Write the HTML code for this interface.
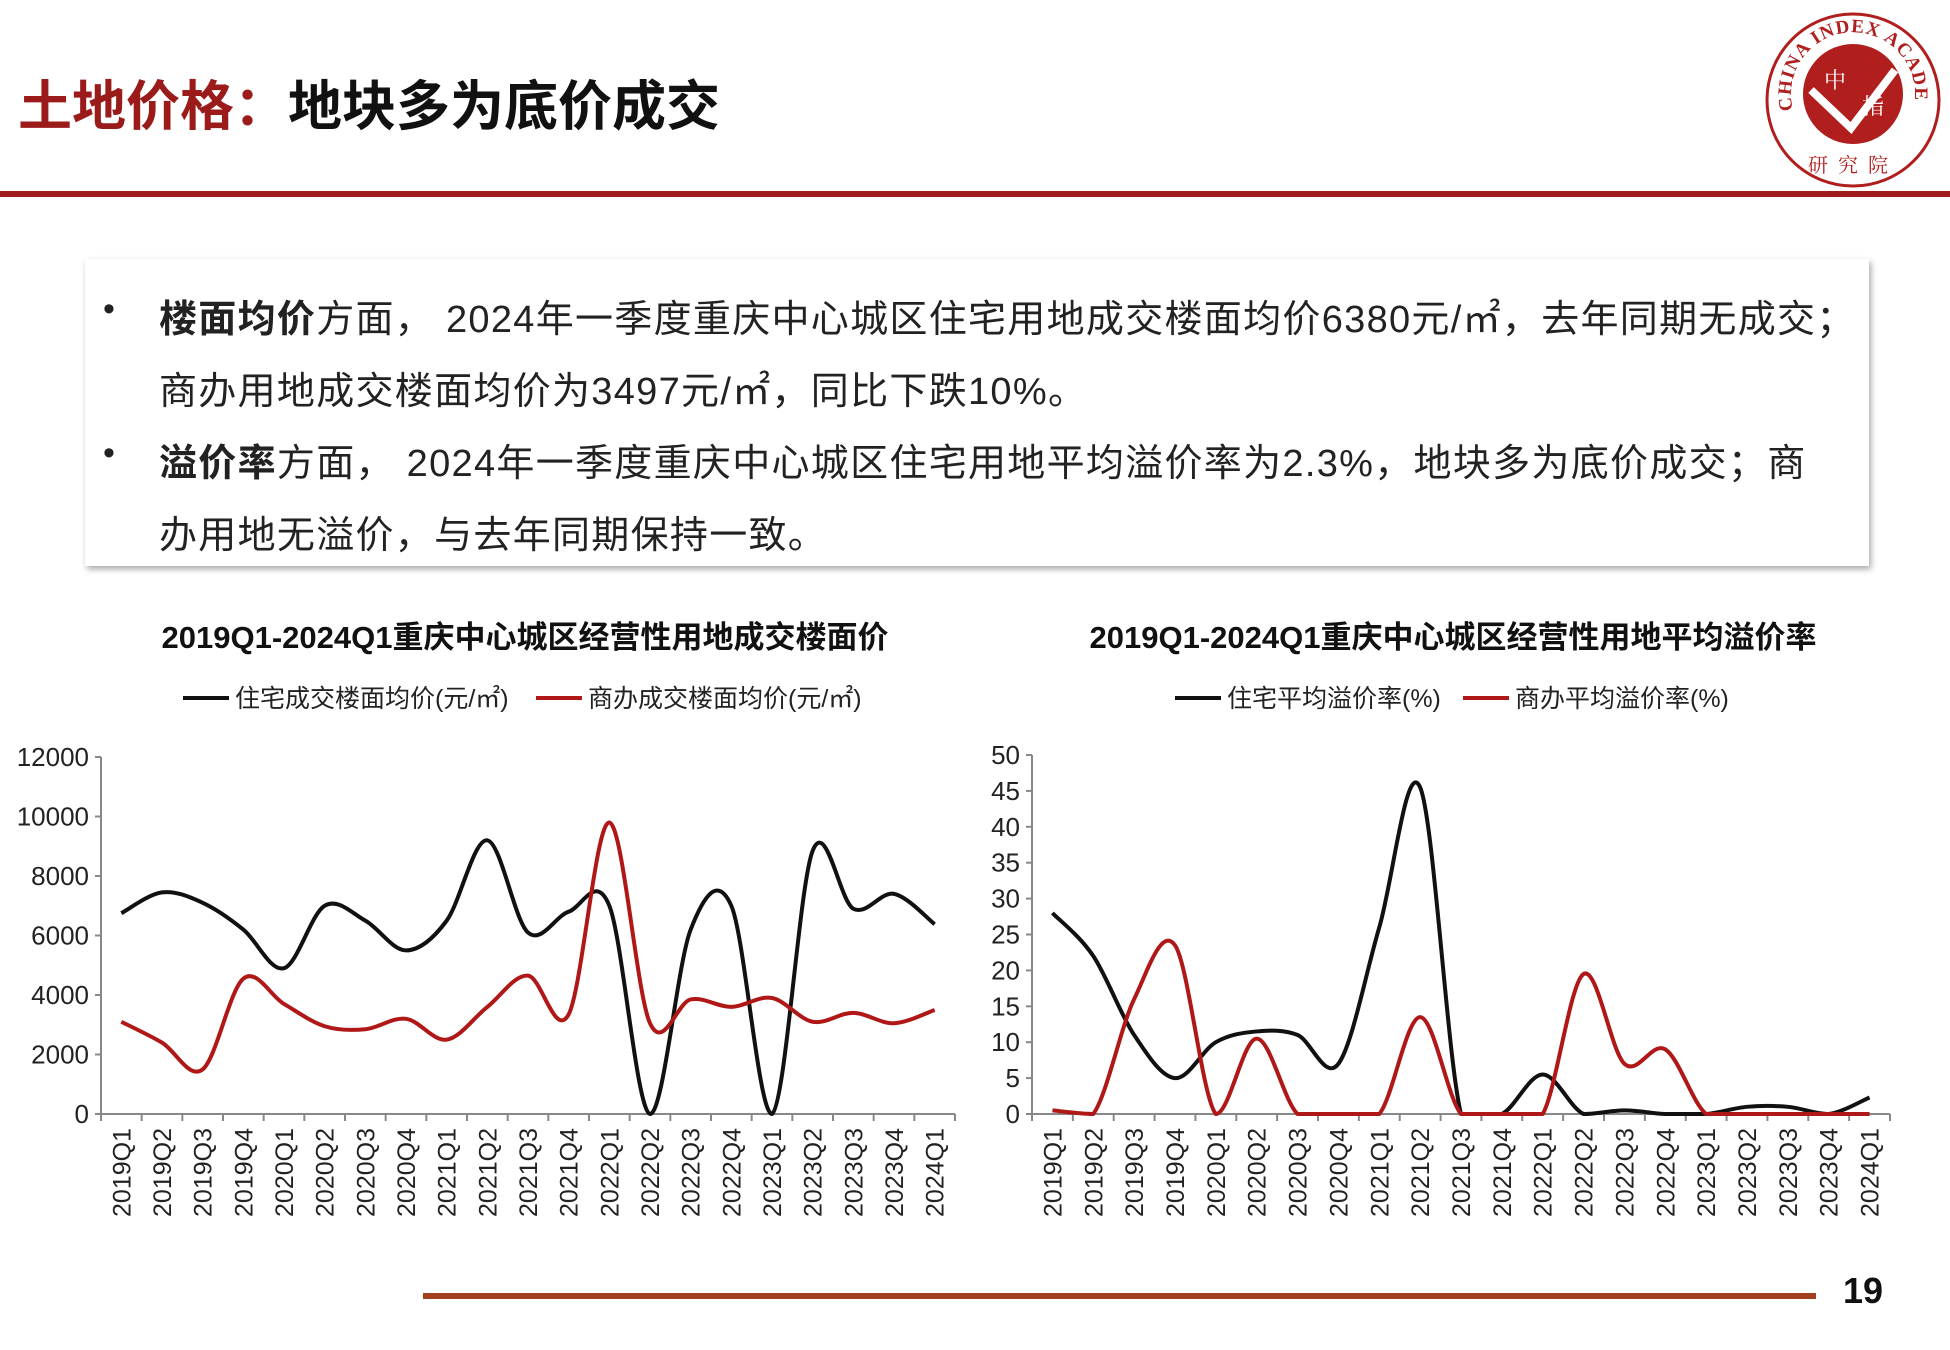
<!DOCTYPE html>
<html><head><meta charset="utf-8">
<style>
body{margin:0;width:1950px;height:1350px;background:#fff;position:relative;overflow:hidden;font-family:"Liberation Sans","Noto Sans CJK SC",sans-serif;}
.abs{position:absolute;}
#title{left:18px;top:62px;font-size:54px;font-weight:bold;color:#111;letter-spacing:0px;white-space:nowrap;}
#title span{color:#9b1b1b;}
#rule{left:0;top:191px;width:1950px;height:6px;background:#a01c1c;}
#box{left:85px;top:259px;width:1784px;height:307px;background:#fff;box-shadow:2px 3px 6px rgba(0,0,0,0.35);}
.ln{position:absolute;left:159px;font-size:38px;letter-spacing:1.3px;color:#222;white-space:nowrap;}
.bu{position:absolute;left:103px;font-size:34px;color:#222;}
#foot{left:423px;top:1293px;width:1393px;height:6px;background:#a0401c;}
#pg{left:1843px;top:1270px;font-size:36px;font-weight:bold;color:#111;}
</style></head><body>
<div id="title" class="abs"><span>土地价格：</span>地块多为底价成交</div>
<div id="rule" class="abs"></div>
<svg class="abs" style="left:1763px;top:10px" width="180" height="180" viewBox="0 0 180 180">
<defs><path id="arc" d="M30,100 A62,62 0 1,1 150,100"/></defs>
<circle cx="90" cy="90" r="86" fill="#fff" stroke="#b01e1e" stroke-width="3"/>
<text font-size="19" font-family="Liberation Serif,serif" font-weight="bold" fill="#b01e1e" letter-spacing="1"><textPath href="#arc">CHINA INDEX ACADEMY</textPath></text>
<circle cx="90" cy="84" r="50" fill="#b01e1e"/>
<path d="M48,80 L88,118 L132,60" stroke="#fff" stroke-width="8" fill="none"/>
<text x="72" y="78" font-size="22" fill="#fff" font-family="Noto Serif CJK SC,serif" text-anchor="middle">中</text>
<text x="110" y="104" font-size="22" fill="#fff" font-family="Noto Serif CJK SC,serif" text-anchor="middle">指</text>
<text x="90" y="162" font-size="20" fill="#b01e1e" font-family="Noto Serif CJK SC,serif" text-anchor="middle" letter-spacing="10">研究院</text>
</svg>
<div id="box" class="abs"></div>
<div class="bu" style="top:290px">•</div>
<div class="ln" style="top:288px"><b>楼面均价</b>方面， 2024年一季度重庆中心城区住宅用地成交楼面均价6380元/㎡，去年同期无成交；</div>
<div class="ln" style="top:360px">商办用地成交楼面均价为3497元/㎡，同比下跌10%。</div>
<div class="bu" style="top:434px">•</div>
<div class="ln" style="top:432px"><b>溢价率</b>方面， 2024年一季度重庆中心城区住宅用地平均溢价率为2.3%，地块多为底价成交；商</div>
<div class="ln" style="top:504px">办用地无溢价，与去年同期保持一致。</div>
<svg id="ch" class="abs" style="left:0;top:0" width="1950" height="1350"></svg>
<div id="foot" class="abs"></div>
<div id="pg" class="abs">19</div>
<script>
var cats=[];for(var y=2019;y<=2024;y++)for(var q=1;q<=4;q++){if(y==2024&&q>1)break;cats.push(y+"Q"+q);}
var svg=document.getElementById('ch'),h='';
function t(x,y,s,o){h+='<text x="'+x+'" y="'+y+'" '+(o||'')+'>'+s+'</text>';}
function path(pts,col,yb){var d='M'+pts[0][0]+','+pts[0][1];for(var i=0;i<pts.length-1;i++){var p0=pts[Math.max(i-1,0)],p1=pts[i],p2=pts[i+1],p3=pts[Math.min(i+2,pts.length-1)];
var c1y=Math.min(yb,p1[1]+(p2[1]-p0[1])/6),c2y=Math.min(yb,p2[1]-(p3[1]-p1[1])/6);
d+=' C'+(p1[0]+(p2[0]-p0[0])/6)+','+c1y+' '+(p2[0]-(p3[0]-p1[0])/6)+','+c2y+' '+p2[0]+','+p2[1];}
h+='<path d="'+d+'" stroke="'+col+'" stroke-width="4" fill="none" stroke-linejoin="round"/>';}
function chart(o){var w=(o.x1-o.x0)/21;
h+='<line x1="'+o.x0+'" y1="'+o.yt+'" x2="'+o.x0+'" y2="'+o.y0+'" stroke="#888" stroke-width="2"/>';
h+='<line x1="'+o.x0+'" y1="'+o.y0+'" x2="'+o.x1+'" y2="'+o.y0+'" stroke="#888" stroke-width="2"/>';
for(var v=0;v<=o.max;v+=o.step){var y=o.y0-(o.y0-o.yt)*v/o.max;h+='<line x1="'+(o.x0-6)+'" y1="'+y+'" x2="'+o.x0+'" y2="'+y+'" stroke="#888" stroke-width="2"/>';
t(o.x0-12,y+9,v,'font-size="26" text-anchor="end" fill="#222"');}
for(var i=0;i<=21;i++){var x=o.x0+i*w;h+='<line x1="'+x+'" y1="'+o.y0+'" x2="'+x+'" y2="'+(o.y0+7)+'" stroke="#888" stroke-width="2"/>';}
for(var i=0;i<21;i++){var x=o.x0+(i+0.5)*w+9;t(0,0,cats[i],'font-size="25" fill="#222" text-anchor="end" transform="translate('+x+','+(o.y0+14)+') rotate(-90)"');}
var mk=function(a){return a.map(function(v,i){return[o.x0+(i+0.5)*w,o.y0-(o.y0-o.yt)*v/o.max];});};
path(mk(o.a),'#111',o.y0);path(mk(o.b),'#b01818',o.y0);
t(o.tx,648,o.title,'font-size="31" font-weight="bold" text-anchor="middle" fill="#111"');
h+='<line x1="'+o.lx+'" y1="698" x2="'+(o.lx+46)+'" y2="698" stroke="#111" stroke-width="4"/>';t(o.lx+52,707,o.la,'font-size="25" fill="#222"');
h+='<line x1="'+o.lx2+'" y1="698" x2="'+(o.lx2+46)+'" y2="698" stroke="#b01818" stroke-width="4"/>';t(o.lx2+52,707,o.lb,'font-size="25" fill="#222"');}
chart({x0:101,x1:955,y0:1114,yt:757,max:12000,step:2000,
a:[6750,7450,7100,6200,4900,7000,6500,5500,6500,9200,6100,6800,7000,0,6200,7000,0,8850,6900,7400,6380],
b:[3100,2400,1500,4550,3700,2950,2850,3200,2500,3600,4650,3350,9800,3050,3850,3600,3900,3100,3400,3050,3497],
tx:525,title:'2019Q1-2024Q1重庆中心城区经营性用地成交楼面价',lx:183,la:'住宅成交楼面均价(元/㎡)',lx2:536,lb:'商办成交楼面均价(元/㎡)'});
chart({x0:1032,x1:1890,y0:1114,yt:755,max:50,step:5,
a:[28,22,11,5,10,11.5,11,7,26,45.5,0,0,5.5,0,0.5,0,0,1,1,0,2.3],
b:[0.5,0,16,23.5,0,10.5,0,0,0,13.5,0,0,0,19.5,7,9,0,0,0,0,0],
tx:1453,title:'2019Q1-2024Q1重庆中心城区经营性用地平均溢价率',lx:1175,la:'住宅平均溢价率(%)',lx2:1463,lb:'商办平均溢价率(%)'});
svg.innerHTML=h;
</script>
</body></html>
